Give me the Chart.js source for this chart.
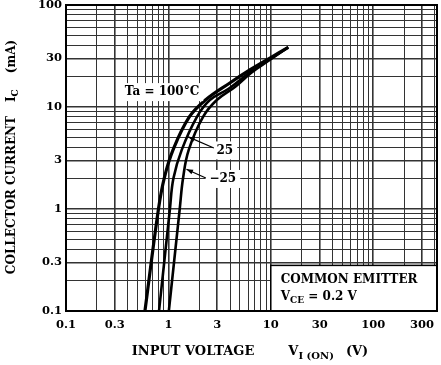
<!DOCTYPE html>
<html>
<head>
<meta charset="utf-8">
<script src="https://cdn.jsdelivr.net/npm/chart.js@4"></script>
<style>
  html, body { margin: 0; padding: 0; background: #fff; }
  #wrap { width: 441px; height: 365px; }
</style>
</head>
<body>
<div id="wrap"><canvas id="chart" width="441" height="365"></canvas></div>
<script>
// Collector current Ic (mA) vs input voltage Vi(on) (V), three ambient temperatures
const volts100 = [0.59, 0.80, 0.91, 1.11, 1.6, 2.3, 3.98, 6.24, 9.8, 14.8];
const amps100  = [0.1, 1.0, 2.0, 3.8, 8.0, 11.7, 17.2, 23.1, 30.2, 38.5];

const volts25 = [0.81, 1.035, 1.12, 1.35, 1.9, 2.54, 3.9, 6.3, 9.9, 14.8];
const amps25  = [0.1, 1.0, 2.0, 3.8, 8.0, 11.7, 15.2, 22.0, 29.6, 38.5];

const voltsM25 = [1.01, 1.29, 1.39, 1.58, 2.18, 2.97, 4.5, 6.5, 10, 14.8];
const ampsM25  = [0.1, 1.0, 2.0, 3.8, 8.0, 11.7, 15.8, 21.8, 29.4, 38.5];

// Axis ranges and labelled ticks
const xMin = 0.1, xMax = 420;
const yMin = 0.1, yMax = 100;
const xTickLabels = [0.1, 0.3, 1, 3, 10, 30, 100, 300];
const yTickLabels = [0.1, 0.3, 1, 3, 10, 30, 100];

// Annotations, placed in data coordinates
const tempLabels = ['Ta = 100°C', '25', '\u221225'];
const tempLabelX = [0.865, 3.56, 3.40];
const tempLabelY = [14, 3.75, 1.97];
const leader25 = [[2.78, 3.96], [1.56, 5.1]];     // tail, tip
const leaderM25 = [[2.32, 2.01], [1.5, 2.45]];
const conditionBox = [10, 0.28];                   // left x, top y
const conditionLines = ['COMMON EMITTER', 'V|CE| = 0.2 V'];

const serif = '"DejaVu Serif", "Liberation Serif", serif';

// Log grid: 1..9 in each decade
function logGrid(min, max) {
  const vals = [];
  for (let e = Math.floor(Math.log10(min)); e <= Math.ceil(Math.log10(max)); e++) {
    for (let m = 1; m <= 9; m++) {
      const v = parseFloat((m * Math.pow(10, e)).toPrecision(3));
      if (v >= min - 1e-9 && v <= max + 1e-9) vals.push(v);
    }
  }
  return vals;
}

function toPoints(xs, ys) {
  return xs.map((v, i) => ({ x: v, y: ys[i] }));
}

function gridWidth(ctx) {
  if (!ctx.tick) return 1;
  const m = ctx.tick.value / Math.pow(10, Math.floor(Math.log10(ctx.tick.value) + 1e-9));
  return (Math.abs(m - 1) < 1e-6 || Math.abs(m - 3) < 1e-6) ? 1.6 : 1;
}

// Draw text where "a|b|c" means b is a subscript
function richWidth(ctx, str, size) {
  let w = 0;
  str.split('|').forEach((part, i) => {
    ctx.font = 'bold ' + (i % 2 ? size - 3 : size) + 'px ' + serif;
    w += ctx.measureText(part).width;
  });
  return w;
}
function drawRich(ctx, str, x, y, size) {
  str.split('|').forEach((part, i) => {
    const sub = i % 2 === 1;
    ctx.font = 'bold ' + (sub ? size - 3 : size) + 'px ' + serif;
    ctx.fillText(part, x, sub ? y + 4 : y);
    x += ctx.measureText(part).width;
  });
}

function arrow(ctx, x1, y1, x2, y2) {
  ctx.beginPath();
  ctx.moveTo(x1, y1);
  ctx.lineTo(x2, y2);
  ctx.stroke();
  const ang = Math.atan2(y2 - y1, x2 - x1);
  const len = 7;
  ctx.beginPath();
  ctx.moveTo(x2, y2);
  ctx.lineTo(x2 - len * Math.cos(ang - 0.35), y2 - len * Math.sin(ang - 0.35));
  ctx.lineTo(x2 - len * Math.cos(ang + 0.35), y2 - len * Math.sin(ang + 0.35));
  ctx.closePath();
  ctx.fill();
}

const decor = {
  id: 'decor',
  afterDatasetsDraw(chart) {
    const { ctx, chartArea: a, scales: { x, y } } = chart;
    ctx.save();
    ctx.fillStyle = '#000';
    ctx.strokeStyle = '#000';
    ctx.textBaseline = 'middle';

    // temperature labels on white patches
    ctx.font = 'bold 12px ' + serif;
    tempLabels.forEach((t, i) => {
      const px = x.getPixelForValue(tempLabelX[i]);
      const py = y.getPixelForValue(tempLabelY[i]);
      const w = ctx.measureText(t).width;
      ctx.fillStyle = '#fff';
      ctx.fillRect(px - w / 2 - 4, py - 9, w + 8, 18);
      ctx.fillStyle = '#000';
      ctx.textAlign = 'center';
      ctx.fillText(t, px, py);
    });

    // leaders
    ctx.lineWidth = 1.2;
    [leader25, leaderM25].forEach(l => {
      arrow(ctx, x.getPixelForValue(l[0][0]), y.getPixelForValue(l[0][1]),
                 x.getPixelForValue(l[1][0]), y.getPixelForValue(l[1][1]));
    });

    // condition box
    const bx = x.getPixelForValue(conditionBox[0]);
    const by = y.getPixelForValue(conditionBox[1]);
    ctx.fillStyle = '#fff';
    ctx.fillRect(bx, by, a.right - bx, a.bottom - by);
    ctx.lineWidth = 1.5;
    ctx.strokeRect(bx, by, a.right - bx, a.bottom - by);
    ctx.fillStyle = '#000';
    ctx.textAlign = 'left';
    drawRich(ctx, conditionLines[0], bx + 10, by + 14, 12);
    drawRich(ctx, conditionLines[1], bx + 10, by + 31, 12);

    // frame
    ctx.lineWidth = 2;
    ctx.strokeRect(a.left, a.top, a.right - a.left, a.bottom - a.top);
    ctx.restore();
  },
  afterDraw(chart) {
    const { ctx } = chart;
    ctx.save();
    ctx.fillStyle = '#000';
    ctx.textBaseline = 'middle';
    ctx.textAlign = 'left';

    // x title
    const xParts = ['INPUT VOLTAGE', 'V|I (ON)', '(V)'];
    const gaps = [34, 12];
    let total = 0;
    xParts.forEach(p => total += richWidth(ctx, p, 13));
    total += gaps[0] + gaps[1];
    let px = 250 - total / 2;
    xParts.forEach((p, i) => {
      drawRich(ctx, p, px, 352, 13);
      px += richWidth(ctx, p, 13) + (gaps[i] || 0);
    });

    // y title, rotated
    const yParts = ['COLLECTOR CURRENT', 'I|C', '(mA)'];
    const ygaps = [14, 16];
    total = 0;
    yParts.forEach(p => total += richWidth(ctx, p, 12));
    total += ygaps[0] + ygaps[1];
    ctx.translate(12, 157);
    ctx.rotate(-Math.PI / 2);
    px = -total / 2;
    yParts.forEach((p, i) => {
      drawRich(ctx, p, px, 0, 12);
      px += richWidth(ctx, p, 12) + (ygaps[i] || 0);
    });
    ctx.restore();
  }
};

const curveStyle = {
  borderColor: '#000',
  pointRadius: 0,
  fill: false,
  tension: 0.4,
  showLine: true
};

new Chart(document.getElementById('chart').getContext('2d'), {
  type: 'scatter',
  data: {
    datasets: [
      Object.assign({ label: 'Ta = 100°C', data: toPoints(volts100, amps100), borderWidth: 3.2 }, curveStyle),
      Object.assign({ label: '25', data: toPoints(volts25, amps25), borderWidth: 2.6 }, curveStyle),
      Object.assign({ label: '-25', data: toPoints(voltsM25, ampsM25), borderWidth: 2.6 }, curveStyle)
    ]
  },
  options: {
    responsive: false,
    animation: false,
    layout: { padding: { left: 6, top: 5, right: 4, bottom: 0 } },
    plugins: { legend: { display: false }, tooltip: { enabled: false } },
    scales: {
      x: {
        type: 'logarithmic',
        min: xMin,
        max: xMax,
        afterBuildTicks: axis => { axis.ticks = logGrid(xMin, xMax).map(v => ({ value: v })); },
        afterFit: axis => { axis.height = 54; axis.paddingLeft = 0; axis.paddingRight = 0; },
        grid: { color: '#333', lineWidth: gridWidth, drawTicks: false },
        border: { display: false },
        ticks: {
          autoSkip: false,
          maxRotation: 0,
          padding: 7,
          color: '#000',
          font: { family: serif, size: 11.5, weight: 'bold' },
          callback: v => xTickLabels.includes(v) ? String(v) : ''
        }
      },
      y: {
        type: 'logarithmic',
        min: yMin,
        max: yMax,
        afterBuildTicks: axis => { axis.ticks = logGrid(yMin, yMax).map(v => ({ value: v })); },
        afterFit: axis => { axis.width = 60; axis.paddingTop = 0; axis.paddingBottom = 0; },
        grid: { color: '#333', lineWidth: gridWidth, drawTicks: false },
        border: { display: false },
        ticks: {
          autoSkip: false,
          padding: 4,
          color: '#000',
          font: { family: serif, size: 11.5, weight: 'bold' },
          callback: v => yTickLabels.includes(v) ? String(v) : ''
        }
      }
    }
  },
  plugins: [decor]
});
</script>
</body>
</html>
